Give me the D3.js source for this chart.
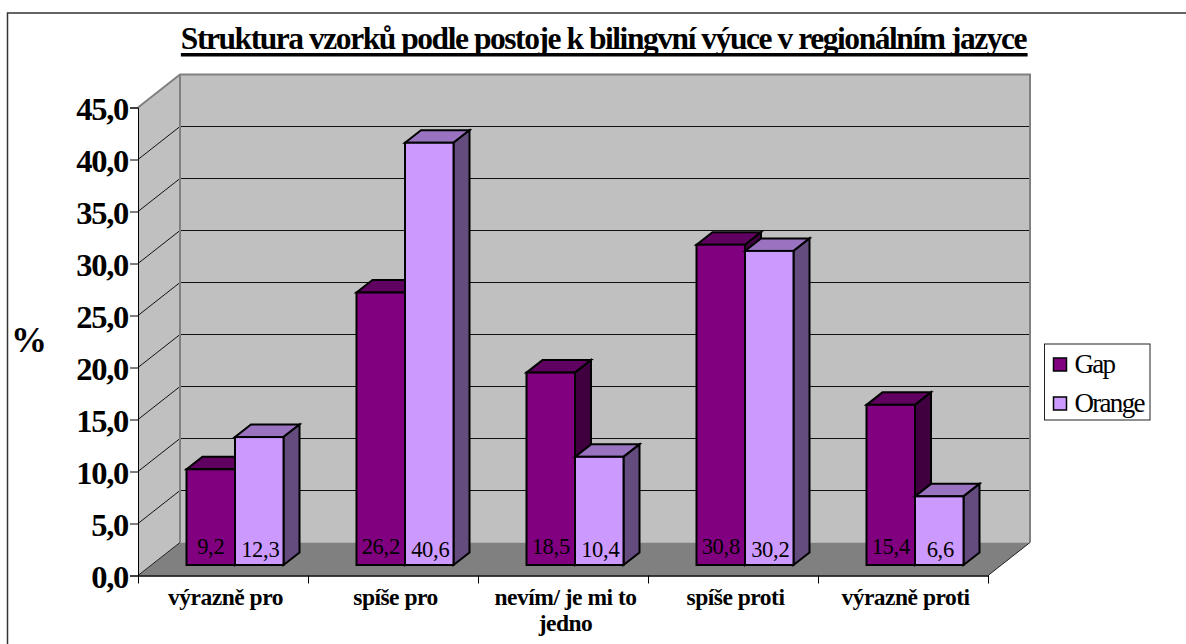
<!DOCTYPE html>
<html lang="cs">
<head>
<meta charset="utf-8">
<style>
html,body{margin:0;padding:0;background:#fff;overflow:hidden}
svg{display:block}
text{font-family:"Liberation Serif","Times New Roman",serif;fill:#000}
</style>
<script src="https://cdn.jsdelivr.net/npm/d3@7/dist/d3.min.js"></script>
</head>
<body>
<svg id="chart" width="1186" height="644"></svg>
<script>
// Survey shares (%) by attitude towards bilingual teaching
const categories = ["výrazně pro", "spíše pro", "nevím/ je mi to jedno", "spíše proti", "výrazně proti"];
const seriesNames = ["Gap", "Orange"];
const gapValues = [9.2, 26.2, 18.5, 30.8, 15.4];
const orangeValues = [12.3, 40.6, 10.4, 30.2, 6.6];
const yTicks = [0, 5, 10, 15, 20, 25, 30, 35, 40, 45];
const titleText = "Struktura vzorků podle postoje k bilingvní výuce v regionálním jazyce";
const axisUnit = "%";

const palette = {
  Gap: {front: "#800080", top: "#600060", side: "#400040"},
  Orange: {front: "#cc99ff", top: "#9973bf", side: "#654c7f"}
};
const valuesBySeries = {Gap: gapValues, Orange: orangeValues};

const svg = d3.select("#chart");
const fmt = v => v.toFixed(1).replace(".", ",");

// Oblique projection: the box is 42px across and 33px up from front to back
const left = 138, right = 988, bottom = 575.5, topY = 107.5;
const wallDx = 42, wallDy = 33;
const barInsetDx = 12, barInsetDy = 10.5;
const barDepthDx = 16, barDepthDy = 12.5;

const y = d3.scaleLinear().domain([0, 45]).range([bottom, topY]);
const x0 = d3.scaleBand().domain(categories).range([left, right]);
const x1 = d3.scaleBand().domain(seriesNames).range([36.5, 133.5]);
const pts = a => a.map(p => p.join(",")).join(" ");

// Chart frame, open towards the right and bottom edges of the page
svg.append("path").attr("d", "M1186,13H7.5V644")
  .attr("fill", "none").attr("stroke", "#333").attr("stroke-width", 1.5);

// Walls and floor
svg.append("polygon").attr("fill", "#c0c0c0").attr("points", pts([
  [left, bottom], [left, topY], [left + wallDx, topY - wallDy],
  [right + wallDx, topY - wallDy], [right + wallDx, bottom - wallDy], [left + wallDx, bottom - wallDy]]));
svg.append("polygon").attr("fill", "#808080").attr("points", pts([
  [left, bottom], [left + wallDx, bottom - wallDy], [right + wallDx, bottom - wallDy], [right, bottom]]));

// Gridlines across the side wall and the back wall
const grid = svg.append("g").attr("stroke", "#111").attr("stroke-width", 1).attr("fill", "none");
yTicks.filter(t => t > 0 && t < 45).forEach(t => {
  grid.append("polyline").attr("points", pts([
    [left, y(t)], [left + wallDx, y(t) - wallDy], [right + wallDx, y(t) - wallDy]]));
});

// Wall outline
svg.append("path").attr("fill", "none").attr("stroke", "#808080").attr("stroke-width", 2)
  .attr("d", `M${left},${topY}L${left + wallDx},${topY - wallDy}H${right + wallDx}V${bottom - wallDy}` +
             `M${left + wallDx},${topY - wallDy}V${bottom - wallDy}`);
svg.append("path").attr("fill", "none").attr("stroke", "#222").attr("stroke-width", 1)
  .attr("d", `M${left},${bottom}L${left + wallDx},${bottom - wallDy}` +
             `M${right},${bottom}L${right + wallDx},${bottom - wallDy}`);

// Bars, each drawn as top, side and front faces
const barData = categories.flatMap((c, i) => seriesNames.map(s => ({c, s, v: valuesBySeries[s][i]})));
const bars = svg.append("g").selectAll("g").data(barData).join("g")
  .attr("stroke", "#000").attr("stroke-width", 2).attr("stroke-linejoin", "miter");
const bx = d => x0(d.c) + x1(d.s) + barInsetDx;
const bw = x1.bandwidth();
const by0 = bottom - barInsetDy;
const by1 = d => y(d.v) - barInsetDy;

bars.append("polygon").attr("fill", d => palette[d.s].top).attr("points", d => pts([
  [bx(d), by1(d)], [bx(d) + barDepthDx, by1(d) - barDepthDy],
  [bx(d) + bw + barDepthDx, by1(d) - barDepthDy], [bx(d) + bw, by1(d)]]));
bars.append("polygon").attr("fill", d => palette[d.s].side).attr("points", d => pts([
  [bx(d) + bw, by1(d)], [bx(d) + bw + barDepthDx, by1(d) - barDepthDy],
  [bx(d) + bw + barDepthDx, by0 - barDepthDy], [bx(d) + bw, by0]]));
bars.append("rect").attr("fill", d => palette[d.s].front)
  .attr("x", bx).attr("y", by1).attr("width", bw).attr("height", d => by0 - by1(d));

// Value labels sit at the foot of each bar
svg.append("g").selectAll("text").data(barData).join("text")
  .attr("x", d => bx(d) + bw / 2 + (d.s === "Orange" ? 1 : 0))
  .attr("y", d => d.s === "Gap" ? 554 : 557)
  .attr("text-anchor", "middle")
  .style("font-size", "22.5px").style("letter-spacing", "-0.3px")
  .text(d => fmt(d.v));

// Value axis
const yAxis = svg.append("g").attr("transform", `translate(${left},0)`)
  .call(d3.axisLeft(y).tickValues(yTicks).tickFormat(fmt).tickSize(8).tickPadding(2));
yAxis.selectAll("path,line").attr("stroke", "#000").attr("stroke-width", 1);
yAxis.selectAll("text").attr("font-family", null).attr("dy", "0.36em")
  .style("font-size", "32.5px").style("font-weight", "bold").style("letter-spacing", "-1.3px");

// Category axis: ticks fall on the band edges
const xEdges = d3.scaleLinear().domain([0, categories.length]).range([left, right]);
const xAxis = svg.append("g").attr("transform", `translate(0,${bottom})`)
  .call(d3.axisBottom(xEdges).tickValues(d3.range(categories.length + 1)).tickFormat("").tickSize(8).tickSizeOuter(0));
xAxis.selectAll("path,line").attr("stroke", "#000").attr("stroke-width", 1);
xAxis.select("path").attr("stroke-width", 1.5);

// Category labels, the long one wrapped onto two lines
const wrapped = {"nevím/ je mi to jedno": ["nevím/ je mi to", "jedno"]};
const catText = svg.append("g").selectAll("text").data(categories).join("text")
  .attr("text-anchor", "middle")
  .attr("transform", d => `translate(${x0(d) + x0.bandwidth() / 2 + 2.5},605)`)
  .style("font-size", "23.5px").style("font-weight", "bold").style("letter-spacing", "-0.5px");
catText.selectAll("tspan").data(d => wrapped[d] || [d]).join("tspan")
  .attr("x", 0).attr("dy", (d, i) => i ? 26 : 0).text(d => d);

// Title with its heavy underline
const title = svg.append("text").attr("x", 603.5).attr("y", 49).attr("text-anchor", "middle")
  .style("font-size", "31.5px").style("font-weight", "bold").style("letter-spacing", "-1.45px").text(titleText);
const tb = title.node().getBBox();
svg.append("rect").attr("x", tb.x).attr("y", 53).attr("width", tb.width).attr("height", 3.5).attr("fill", "#000");

// Axis unit
svg.append("text").attr("x", 29).attr("y", 351.5).attr("text-anchor", "middle")
  .style("font-size", "36px").style("font-weight", "bold").text(axisUnit);

// Legend
const legend = svg.append("g").attr("transform", "translate(1044.5,344)");
legend.append("rect").attr("width", 105.5).attr("height", 76)
  .attr("fill", "#fff").attr("stroke", "#222").attr("stroke-width", 1);
const items = legend.selectAll("g").data(seriesNames).join("g")
  .attr("transform", (d, i) => `translate(9,${14 + i * 39})`);
items.append("rect").attr("width", 13).attr("height", 13)
  .attr("fill", d => palette[d].front).attr("stroke", "#000").attr("stroke-width", 1.5);
items.append("text").attr("x", 21).attr("y", 14.5)
  .style("font-size", "27px").style("letter-spacing", "-1.7px").text(d => d);
</script>
</body>
</html>
